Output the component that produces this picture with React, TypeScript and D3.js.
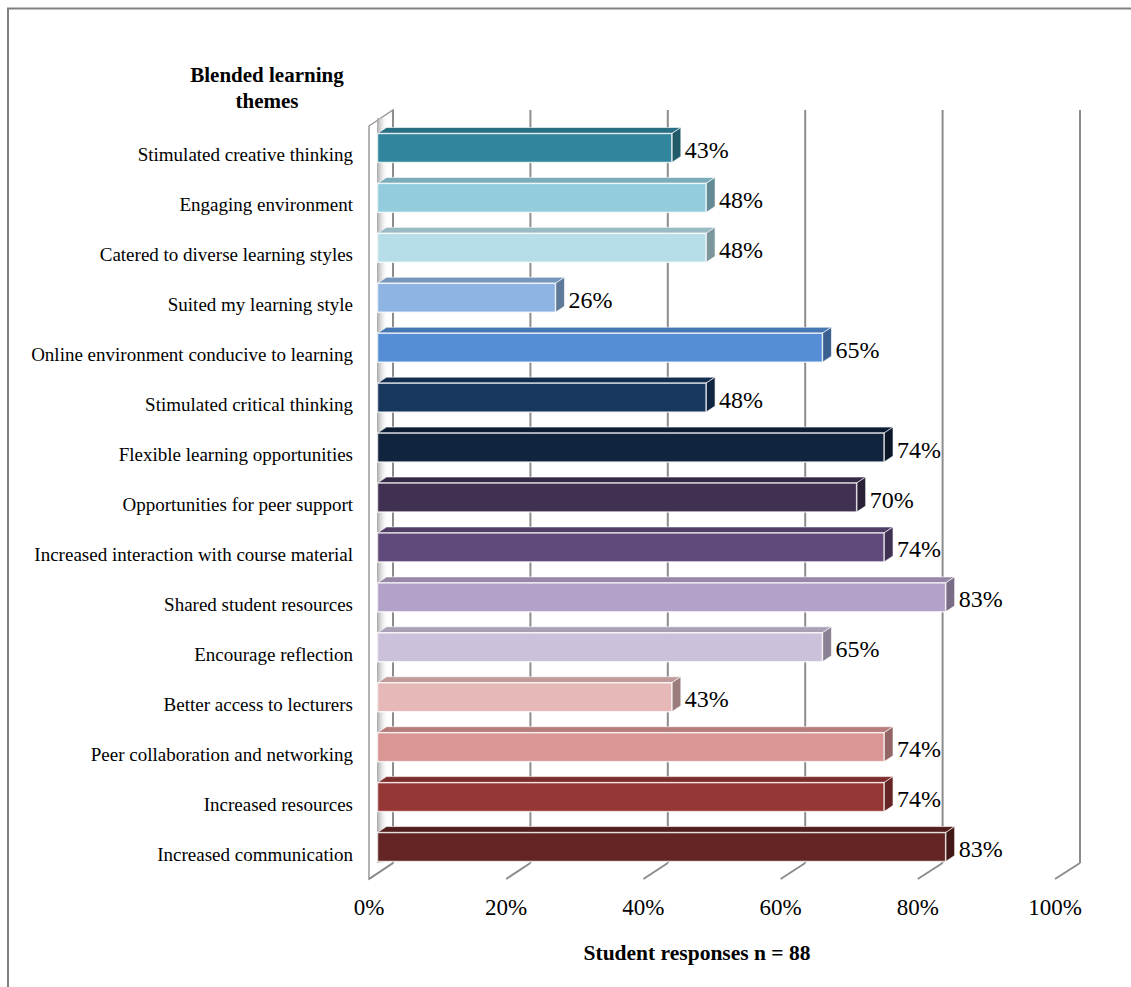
import React from "react";
import * as d3 from "d3";

const categories = [
  "Stimulated creative thinking",
  "Engaging environment",
  "Catered to diverse learning styles",
  "Suited my learning style",
  "Online environment conducive to learning",
  "Stimulated critical thinking",
  "Flexible learning opportunities",
  "Opportunities for peer support",
  "Increased interaction with course material",
  "Shared student resources",
  "Encourage reflection",
  "Better access to lecturers",
  "Peer collaboration and networking",
  "Increased resources",
  "Increased communication",
];
const values = [0.43, 0.48, 0.48, 0.26, 0.65, 0.48, 0.74, 0.70, 0.74, 0.83, 0.65, 0.43, 0.74, 0.74, 0.83];
const colors = [
  "#31859C", "#93CDDD", "#B7DEE8", "#8DB4E2", "#558ED5", "#17375E", "#10243E",
  "#403152", "#604A7B", "#B3A2C7", "#CCC1DA", "#E6B9B8", "#D99694", "#953735", "#632523",
];
const ticks = [0, 0.2, 0.4, 0.6, 0.8, 1.0];
const yTitle = ["Blended learning", "themes"];
const xTitle = "Student responses n = 88";

const W = 1131;
const H = 987;
const FONT = "Liberation Serif";

export default function App() {
  const xFloorFront = d3.scaleLinear().domain([0, 1]).range([369, 1055]);
  const xFloorBack = d3.scaleLinear().domain([0, 1]).range([393, 1080]);
  const xBar = d3.scaleLinear().domain([0, 1]).range([377.5, 1062]);
  const y = d3.scaleBand<string>().domain(categories).range([123, 872]).paddingInner(0.42).paddingOuter(0.21);
  const backTop = 110;
  const backBottom = 863;
  const frontBottom = 879;
  const dx = 9;
  const dy = -6;
  const fmt = d3.format(".0%");

  return (
    <svg width={W} height={H} style={{ position: "absolute", left: 0, top: 0, background: "#fff" }}>
      <defs>
        <linearGradient id="wallShade" x1="0" x2="1" y1="0" y2="0">
          <stop offset="0" stopColor="#a8a8a8" />
          <stop offset="1" stopColor="#ffffff" stopOpacity="0" />
        </linearGradient>
      </defs>
      <rect x={8} y={8.5} width={1200} height={1100} fill="#fff" stroke="#808080" strokeWidth={2} />

      {/* left wall */}
      <polygon
        points={`${xFloorFront(0)},${frontBottom - (backBottom - backTop)} ${xFloorBack(0)},${backTop} ${xFloorBack(0)},${backBottom} ${xFloorFront(0)},${frontBottom}`}
        fill="#fff"
        stroke="#9a9a9a"
        strokeWidth={1.5}
      />
      <rect x={377} y={backTop + 8} width={11} height={backBottom - backTop - 8} fill="url(#wallShade)" />

      {/* gridlines */}
      {ticks.map((t) => (
        <g key={t}>
          <line x1={xFloorBack(t)} x2={xFloorBack(t)} y1={backTop} y2={backBottom} stroke="#8c8c8c" strokeWidth={2} />
          <line x1={xFloorBack(t)} x2={xFloorFront(t)} y1={backBottom} y2={frontBottom} stroke="#8c8c8c" strokeWidth={2} />
        </g>
      ))}

      {/* bars */}
      {categories.map((c, i) => {
        const y0 = y(c)!;
        const h = y.bandwidth();
        const x0 = xBar(0);
        const x1 = xBar(values[i]);
        const base = d3.color(colors[i])!;
        const top = base.darker(0.5).toString();
        const side = base.darker(1.1).toString();
        return (
          <g key={c}>
            <polygon
              points={`${x0},${y0} ${x0 + dx},${y0 + dy} ${x1 + dx},${y0 + dy} ${x1},${y0}`}
              fill={top}
              stroke="rgba(255,255,255,0.6)"
              strokeWidth={1}
            />
            <polygon
              points={`${x1},${y0} ${x1 + dx},${y0 + dy} ${x1 + dx},${y0 + h + dy} ${x1},${y0 + h}`}
              fill={side}
              stroke="rgba(255,255,255,0.6)"
              strokeWidth={1}
            />
            <rect x={x0} y={y0} width={x1 - x0} height={h} fill={colors[i]} stroke="rgba(255,255,255,0.75)" strokeWidth={1.5} />
            <text
              x={x1 + dx + 4}
              y={y0 + h / 2 + 2}
              dominantBaseline="central"
              fontFamily={FONT}
              fontSize={24}
              fill="#000"
            >
              {fmt(values[i])}
            </text>
            <text
              x={353}
              y={y0 + h / 2 + 7}
              dominantBaseline="central"
              textAnchor="end"
              fontFamily={FONT}
              fontSize={19}
              fill="#000"
            >
              {c}
            </text>
          </g>
        );
      })}

      {/* tick labels */}
      {ticks.map((t) => (
        <text
          key={t}
          x={xFloorFront(t)}
          y={907}
          dominantBaseline="central"
          textAnchor="middle"
          fontFamily={FONT}
          fontSize={23}
          fill="#000"
        >
          {fmt(t)}
        </text>
      ))}

      {/* titles */}
      {yTitle.map((s, i) => (
        <text
          key={s}
          x={267}
          y={75 + i * 26}
          dominantBaseline="central"
          textAnchor="middle"
          fontFamily={FONT}
          fontSize={21}
          fontWeight="bold"
          fill="#000"
        >
          {s}
        </text>
      ))}
      <text
        x={697}
        y={953}
        dominantBaseline="central"
        textAnchor="middle"
        fontFamily={FONT}
        fontSize={21.5}
        fontWeight="bold"
        fill="#000"
      >
        {xTitle}
      </text>
    </svg>
  );
}
